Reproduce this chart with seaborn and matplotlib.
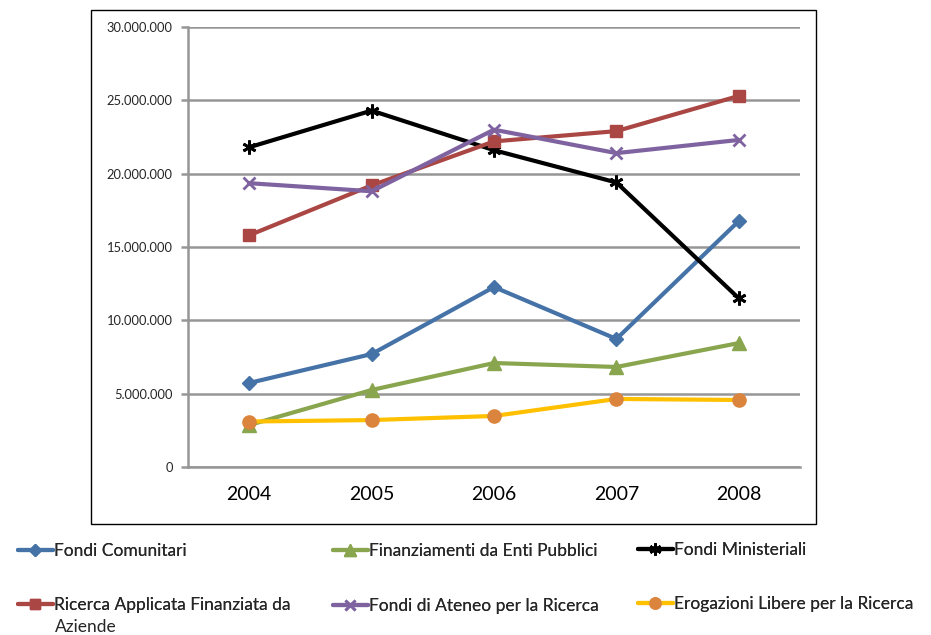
import matplotlib
matplotlib.use('Agg')
import matplotlib.pyplot as plt
import seaborn as sns
import pandas as pd
import numpy as np
from matplotlib.lines import Line2D
from matplotlib.patches import Rectangle
from matplotlib.ticker import FuncFormatter, FixedLocator

# Dati (euro per anno)
years = ['2004', '2005', '2006', '2007', '2008']
fondi_comunitari = [5730000, 7700000, 12270000, 8730000, 16770000]
finanziamenti_enti = [2860000, 5250000, 7090000, 6820000, 8450000]
fondi_ministeriali = [21800000, 24300000, 21600000, 19400000, 11500000]
ricerca_aziende = [15800000, 19200000, 22200000, 22900000, 25300000]
fondi_ateneo = [19350000, 18800000, 23000000, 21400000, 22300000]
erogazioni_libere = [3100000, 3200000, 3480000, 4640000, 4570000]

series_names = ['Fondi Comunitari', 'Finanziamenti da Enti Pubblici', 'Fondi Ministeriali',
                'Ricerca Applicata Finanziata da Aziende', 'Fondi di Ateneo per la Ricerca',
                'Erogazioni Libere per la Ricerca']
series_values = [fondi_comunitari, finanziamenti_enti, fondi_ministeriali,
                 ricerca_aziende, fondi_ateneo, erogazioni_libere]

df = pd.DataFrame({'anno': np.tile(years, len(series_names)),
                   'serie': np.repeat(series_names, len(years)),
                   'valore': np.concatenate(series_values)})

# stile: (colore linea, marker, colore marker, dimensione)
styles = {
    'Fondi Comunitari': ('#4572A7', 'D', '#4572A7', 7.5),
    'Finanziamenti da Enti Pubblici': ('#89A54E', '^', '#89A54E', 9.5),
    'Fondi Ministeriali': ('#000000', (6, 2, 0), '#000000', 10),
    'Ricerca Applicata Finanziata da Aziende': ('#AA4643', 's', '#AA4643', 8.5),
    'Fondi di Ateneo per la Ricerca': ('#7E63A0', 'x', '#7E63A0', 9),
    'Erogazioni Libere per la Ricerca': ('#FFC000', 'o', '#DB843D', 9.5),
}

sns.set_style('white')
plt.rcParams['font.family'] = ['Lato', 'DejaVu Sans']

W, H = 931, 635
fig = plt.figure(figsize=(W / 100, H / 100), dpi=100)
ax = fig.add_axes([188 / W, 1 - 467 / H, (800 - 188) / W, (467 - 27) / H])

x_pos = {y: i for i, y in enumerate(years)}
for name in series_names:
    sub = df[df['serie'] == name]
    lc, mk, mc, ms = styles[name]
    mew = 2 if mk in ('x', (6, 2, 0)) else 1
    sns.lineplot(x=sub['anno'].map(x_pos), y=sub['valore'], ax=ax, color=lc, linewidth=3,
                 marker=mk, markersize=ms, markerfacecolor=mc, markeredgecolor=mc,
                 markeredgewidth=mew, zorder=3)

grid_c = '#969696'
ax.set_xlim(-0.5, len(years) - 0.5)
ax.set_ylim(0, 30000000)
ax.set_yticks(np.arange(0, 30000001, 5000000))
ax.yaxis.set_major_formatter(FuncFormatter(lambda v, p: f'{int(v):,}'.replace(',', '.')))
ax.yaxis.grid(True, color=grid_c, linewidth=1.8)
ax.xaxis.grid(False)
ax.set_xticks(range(len(years)))
ax.set_xticklabels(years)
ax.xaxis.set_minor_locator(FixedLocator(np.arange(-0.5, len(years), 1.0)))
ax.tick_params(axis='x', which='major', length=0, labelsize=14, pad=14, colors='#000000')
ax.tick_params(axis='x', which='minor', length=6, width=1.8, color=grid_c, direction='out')
ax.tick_params(axis='y', which='major', length=5, width=1.8, color=grid_c, labelsize=9.3,
               pad=6, left=True)
ax.set_xlabel('')
ax.set_ylabel('')
for s in ['top', 'right']:
    ax.spines[s].set_visible(False)
for s in ['left', 'bottom']:
    ax.spines[s].set_color(grid_c)
    ax.spines[s].set_linewidth(1.8)
ax.set_axisbelow(True)

# cornice esterna
fig.patches.append(Rectangle((91 / W, 1 - 524 / H), (816 - 91) / W, (524 - 10) / H,
                             transform=fig.transFigure, fill=False, edgecolor='#000000',
                             linewidth=1))

# legenda
leg_pos = [(18, 551), (333, 551), (638, 550), (18, 605), (333, 606), (638, 604)]
for name, (px, py) in zip(series_names, leg_pos):
    lc, mk, mc, ms = styles[name]
    label = 'Ricerca Applicata Finanziata da' if name.startswith('Ricerca') else name
    h = Line2D([], [], color=lc, linewidth=3, marker=mk, markersize=ms * 0.85,
               markerfacecolor=mc, markeredgecolor=mc, markeredgewidth=2 if mk in ('x', (6, 2, 0)) else 1)
    leg = fig.legend([h], [label], loc='center left', bbox_to_anchor=(px / W, 1 - py / H),
                     frameon=False, fontsize=12.5, handlelength=2.0, handletextpad=0.1,
                     borderpad=0, borderaxespad=0)
    fig.add_artist(leg)
fig.text(55 / W, 1 - 627 / H, 'Aziende', fontsize=12.5, va='center', ha='left')

fig.savefig('out.png', dpi=100, facecolor='white')
